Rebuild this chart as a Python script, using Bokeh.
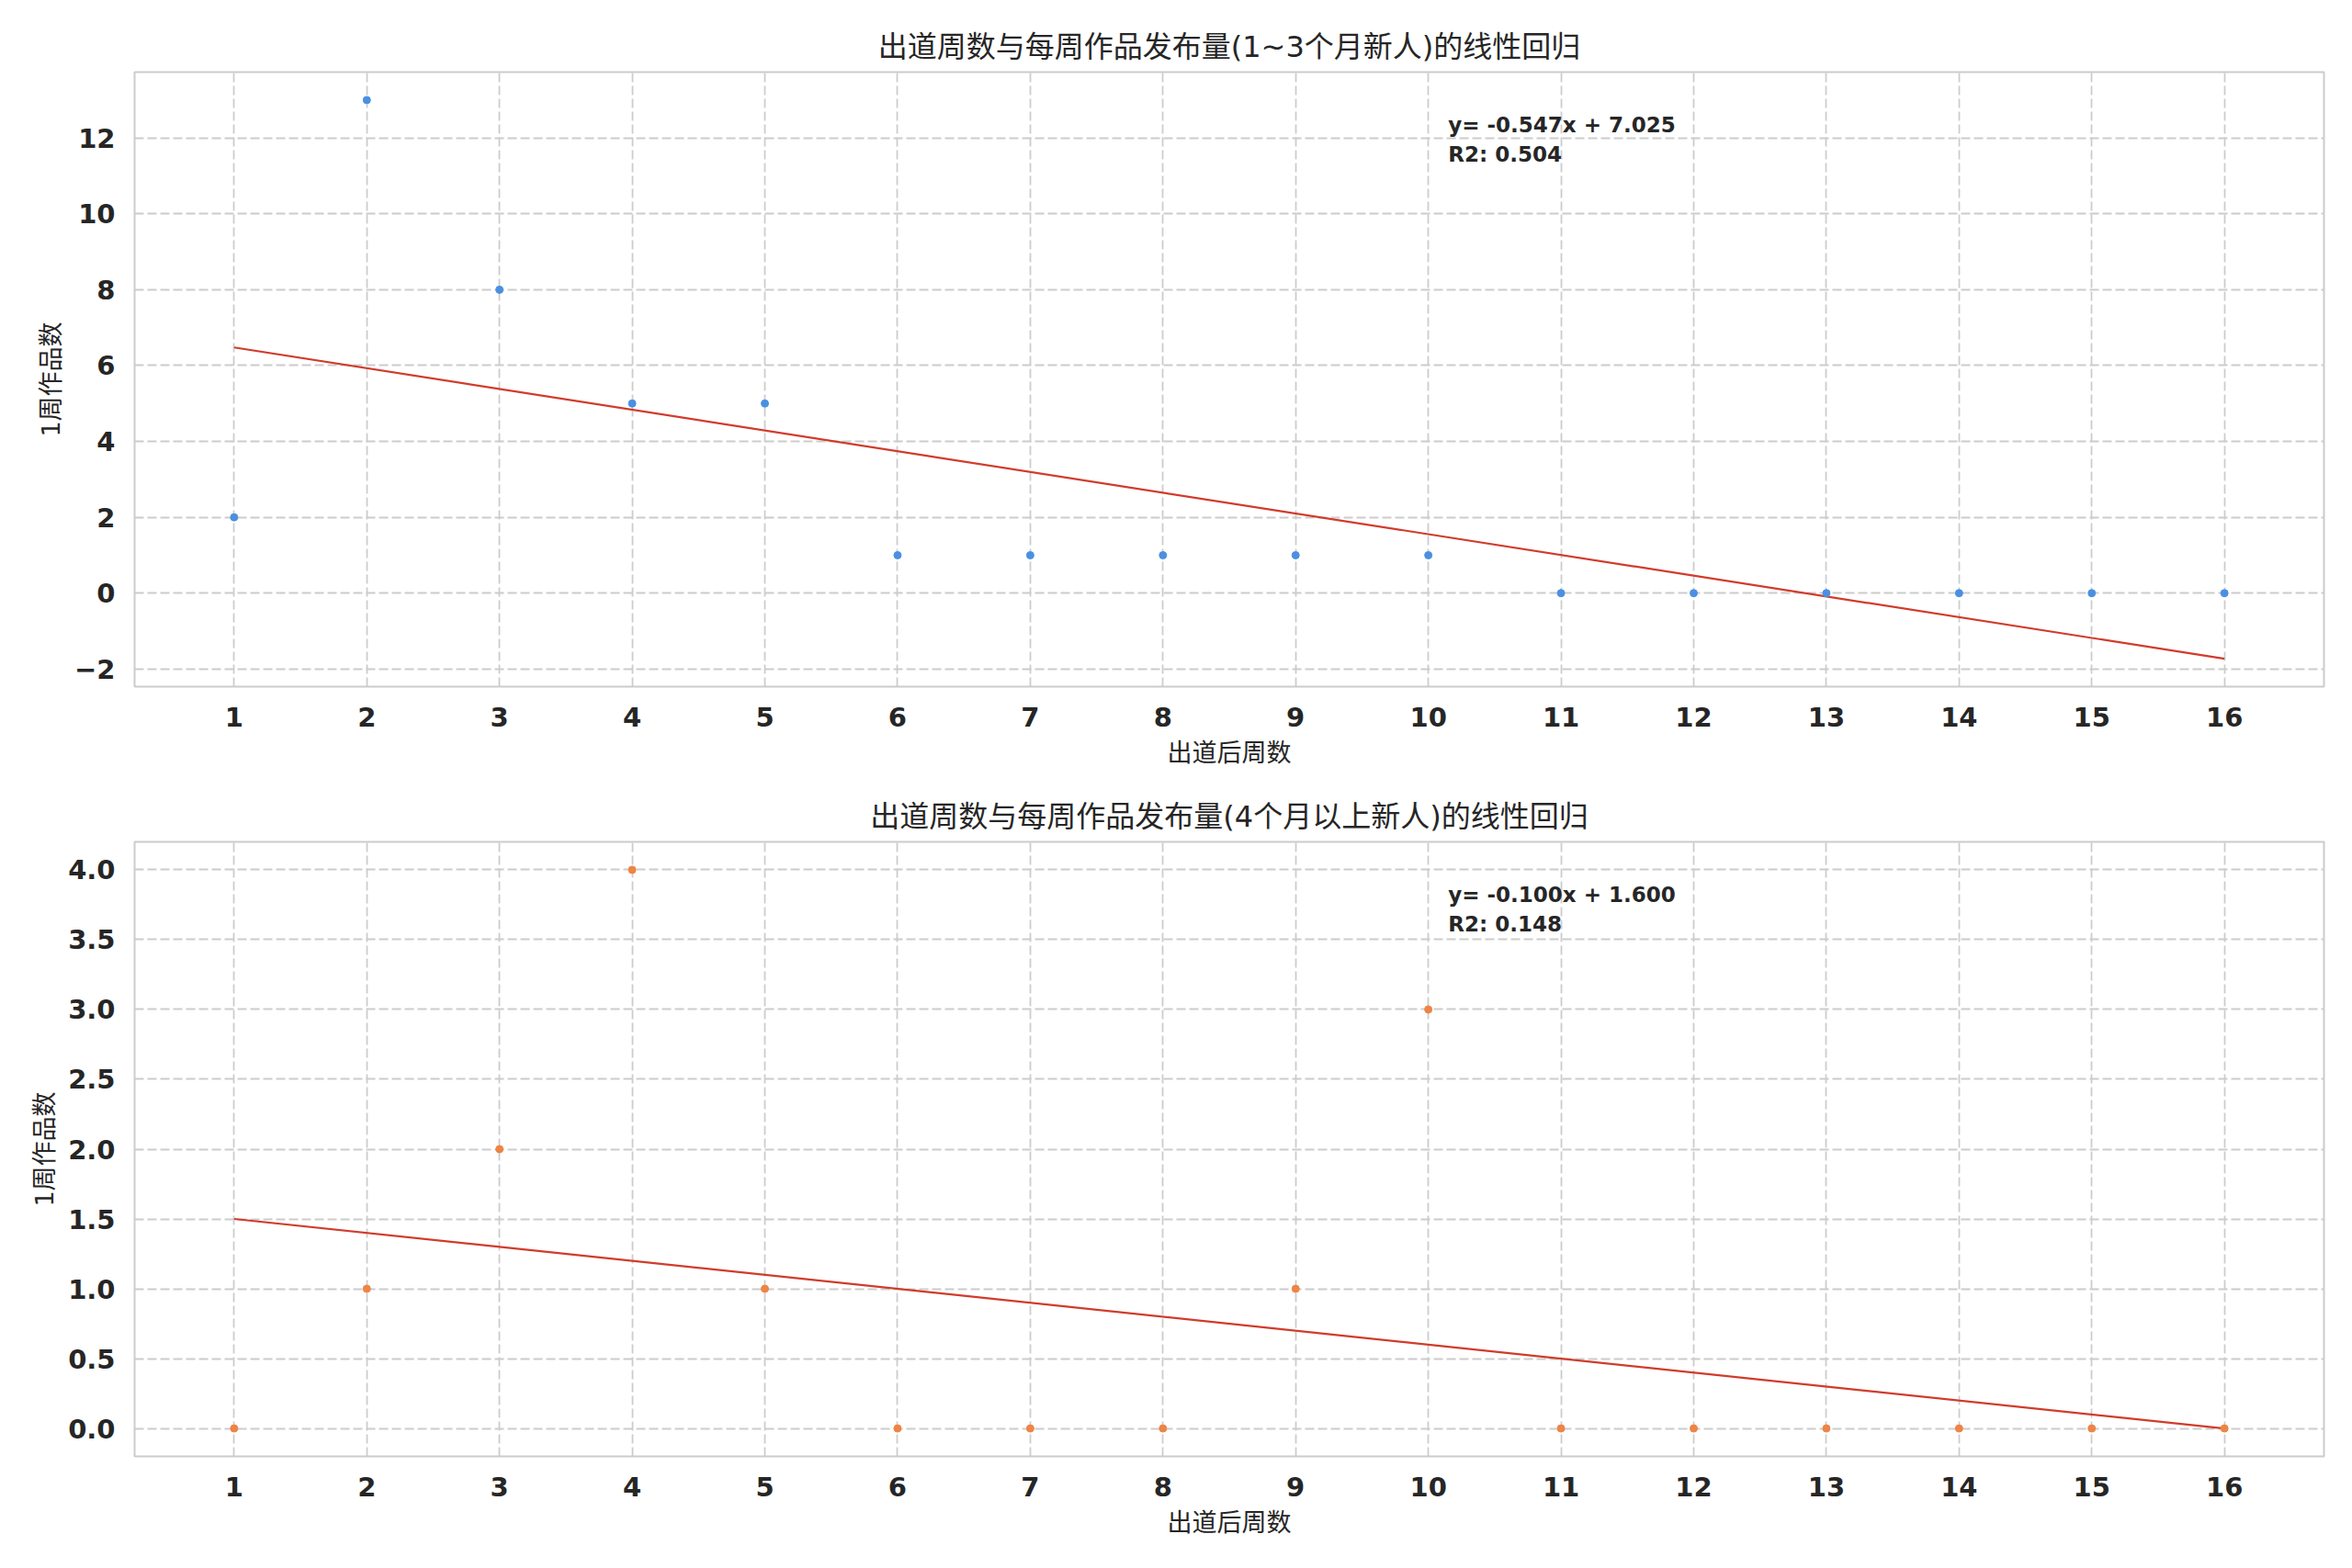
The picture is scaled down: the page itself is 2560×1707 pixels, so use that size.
import numpy as np
from bokeh.plotting import figure
from bokeh.layouts import column
from bokeh.models import Range1d, FixedTicker, NumeralTickFormatter, Label
from bokeh.embed import file_html
from bokeh.resources import INLINE

# ---------------- data ----------------
weeks = list(range(1, 17))
group1_counts = [2, 13, 8, 5, 5, 1, 1, 1, 1, 1, 0, 0, 0, 0, 0, 0]
group2_counts = [0, 1, 2, 4, 1, 0, 0, 0, 1, 3, 0, 0, 0, 0, 0, 0]

title1 = "出道周数与每周作品发布量(1~3个月新人)的线性回归"
title2 = "出道周数与每周作品发布量(4个月以上新人)的线性回归"
xlabel = "出道后周数"
ylabel = "1周作品数"

x_ticks = list(range(1, 17))
y_ticks1 = [-2, 0, 2, 4, 6, 8, 10, 12]
y_ticks2 = [0.0, 0.5, 1.0, 1.5, 2.0, 2.5, 3.0, 3.5, 4.0]

POINT_COLORS = ["#4a90e2", "#ee8445"]
LINE_COLOR = "#d13b2b"
TEXT_COLOR = "#262626"
GRID_COLOR = "#cccccc"
FONT = "DejaVu Sans, Noto Sans CJK SC"


def make_panel(x, y, title, yticks, point_color, top_border, bottom_border, fmt=None):
    x = np.asarray(x, dtype=float)
    y = np.asarray(y, dtype=float)
    slope, intercept = np.polyfit(x, y, 1)
    pred = slope * x + intercept
    r2 = 1 - np.sum((y - pred) ** 2) / np.sum((y - y.mean()) ** 2)
    xl = np.array([x.min(), x.max()])
    yl = slope * xl + intercept

    # matplotlib-like 5% auto margins
    xmin, xmax = x.min(), x.max()
    ymin = min(y.min(), yl.min())
    ymax = max(y.max(), yl.max())
    xm = 0.05 * (xmax - xmin)
    ym = 0.05 * (ymax - ymin)
    xr = Range1d(xmin - xm, xmax + xm)
    yr = Range1d(ymin - ym, ymax + ym)

    p = figure(frame_width=2383, frame_height=669, x_range=xr, y_range=yr,
               output_backend="svg", toolbar_location=None,
               min_border_left=146, min_border_right=15,
               min_border_top=top_border, min_border_bottom=bottom_border,
               background_fill_color="white", border_fill_color="white")

    p.title.text = title
    p.title.align = "center"
    p.title.text_font = FONT
    p.title.text_font_size = "32px"
    p.title.text_font_style = "normal"
    p.title.text_color = TEXT_COLOR
    p.title.standoff = 17

    p.outline_line_color = GRID_COLOR
    p.outline_line_width = 2

    for ax in (p.xaxis[0], p.yaxis[0]):
        ax.axis_line_color = None
        ax.major_tick_line_color = None
        ax.minor_tick_line_color = None
        ax.major_label_text_font = "DejaVu Sans"
        ax.major_label_text_font_style = "bold"
        ax.major_label_text_font_size = "29px"
        ax.major_label_text_color = TEXT_COLOR
        ax.axis_label_text_font = FONT
        ax.axis_label_text_font_style = "normal"
        ax.axis_label_text_font_size = "27px"
        ax.axis_label_text_color = TEXT_COLOR

    p.xaxis[0].ticker = FixedTicker(ticks=x_ticks)
    p.yaxis[0].ticker = FixedTicker(ticks=yticks)
    if fmt is not None:
        p.yaxis[0].formatter = NumeralTickFormatter(format=fmt)
    else:
        p.yaxis[0].major_label_overrides = {t: ("\u2212" + str(abs(t))) for t in yticks if t < 0}
    p.xaxis[0].axis_label = xlabel
    p.yaxis[0].axis_label = ylabel
    p.xaxis[0].major_label_standoff = 16
    p.yaxis[0].major_label_standoff = 15
    p.xaxis[0].axis_label_standoff = 10
    p.yaxis[0].axis_label_standoff = 7

    for g in (p.xgrid[0], p.ygrid[0]):
        g.grid_line_color = GRID_COLOR
        g.grid_line_width = 1.8
        g.grid_line_dash = "10 4"

    p.line(xl, yl, line_color=LINE_COLOR, line_width=2.2)
    p.scatter(x, y, size=8, fill_color=point_color, line_color=point_color)

    lx = xr.start + 0.6 * (xr.end - xr.start)
    ly1 = yr.start + 0.933 * (yr.end - yr.start)
    ly2 = yr.start + 0.885 * (yr.end - yr.start)
    sign = "+" if intercept >= 0 else "-"
    eq = f"y= {slope:.3f}x {sign} {abs(intercept):.3f}"
    for txt, ly in ((eq, ly1), (f"R2: {r2:.3f}", ly2)):
        p.add_layout(Label(x=lx, y=ly, text=txt, text_font="DejaVu Sans",
                           text_font_style="bold", text_font_size="23px",
                           text_color=TEXT_COLOR, text_baseline="top",
                           text_align="left"))
    return p


p1 = make_panel(weeks, group1_counts, title1, y_ticks1, POINT_COLORS[0], 78, 100)
p2 = make_panel(weeks, group2_counts, title2, y_ticks2, POINT_COLORS[1], 69, 100, fmt="0.0")

layout = column(p1, p2, spacing=0)
open("out.html", "w").write(file_html(layout, INLINE))
